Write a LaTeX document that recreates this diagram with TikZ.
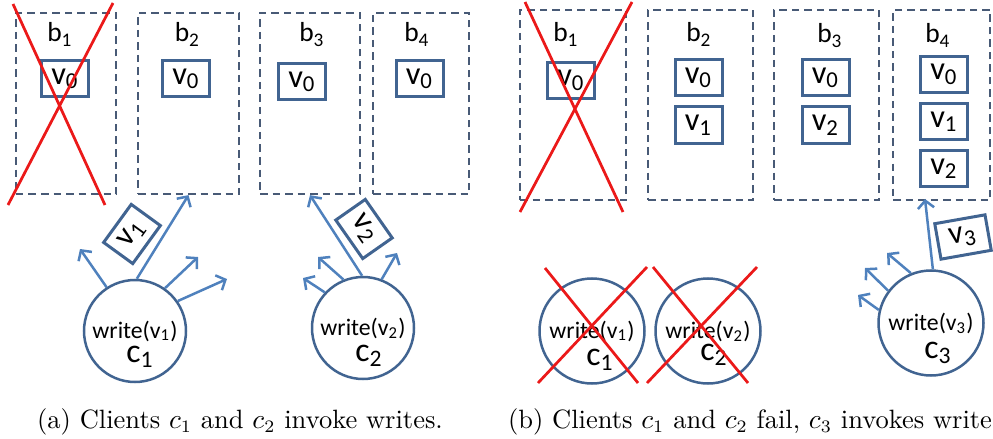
\documentclass[tikz,border=0pt]{standalone}
\usepackage{fontspec}
\newfontfamily\calibri{Carlito}
\usetikzlibrary{positioning,arrows.meta}
\definecolor{boxblue}{RGB}{65,100,145}
\definecolor{dashblue}{RGB}{72,90,118}
\definecolor{arrowblue}{RGB}{79,129,189}
\definecolor{crossred}{RGB}{235,25,25}
\tikzstyle{bucket} = [rectangle, draw=dashblue, line width=0.9pt, dash pattern=on 3pt off 2pt, minimum height=72.4pt]
\tikzstyle{bname} = [font=\calibri\fontsize{11}{13}\selectfont, anchor=base]
\tikzstyle{version} = [rectangle, draw=boxblue, line width=1.2pt, minimum width=18.8pt, minimum height=14.4pt, inner sep=0pt, font=\calibri\fontsize{13}{15}\selectfont]
\tikzstyle{client} = [circle, draw=boxblue, line width=1pt, minimum size=40.8pt, inner sep=0pt, font=\calibri\fontsize{9.5}{11}\selectfont]
\tikzstyle{cname} = [font=\calibri\fontsize{13.5}{15}\selectfont]
\tikzstyle{wrarrow} = [-{Straight Barb[length=3pt,width=6.5pt]}, draw=arrowblue, line width=1pt]
\tikzstyle{cross} = [draw=crossred, line width=1.1pt]
\tikzstyle{caption} = [anchor=base, font=\fontsize{10.6}{12.5}\selectfont]

\begin{document}
\begin{tikzpicture}[x=0.4pt, y=-0.4pt]
	\useasboundingbox (0,0) rectangle (993,439);
	% (a) buckets
	\node (la1) [bucket, minimum width=40pt] at (66,103.5) {};
	\node (la2) [bucket, minimum width=40.4pt] at (188.5,103.5) {};
	\node (la3) [bucket, minimum width=40pt] at (310,103.5) {};
	\node (la4) [bucket, minimum width=38.4pt] at (421,103.5) {};
	\node (na1) [bname] at (60,42) {b\textsubscript{1}};
	\node (na2) [bname] at (187.5,42) {b\textsubscript{2}};
	\node (na3) [bname] at (312,42) {b\textsubscript{3}};
	\node (na4) [bname] at (417,42) {b\textsubscript{4}};
	\node (va1) [version] at (65,79) {v\textsubscript{0}};
	\node (va2) [version] at (186,79) {v\textsubscript{0}};
	\node (va3) [version] at (302,82) {v\textsubscript{0}};
	\node (va4) [version] at (419.5,79) {v\textsubscript{0}};
	\draw[cross] (13,4) -- (105,205) (113,3) -- (8,205);

	% (a) clients
	\node (ca1) [client] at (135,331) {write(v\textsubscript{1})};
	\node (ca2) [client] at (363,328) {write(v\textsubscript{2})};
	\node (cna1) [cname] at (140,357) {c\textsubscript{1}};
	\node (cna2) [cname] at (369,356) {c\textsubscript{2}};
	\coordinate (ta1) at (80,249);
	\coordinate (ta3) at (198,257);
	\coordinate (ta4) at (227,279);
	\coordinate (tb2) at (318,257);
	\coordinate (tb3) at (303,278);
	\coordinate (tb4) at (397,253);
	\draw[wrarrow] (ca1.123) -- (ta1);
	\draw[wrarrow] (ca1.88) -- (la2.south);
	\draw[wrarrow] (ca1.55) -- (ta3);
	\draw[wrarrow] (ca1.35) -- (ta4);
	\draw[wrarrow] (ca2.91) -- (la3.south);
	\draw[wrarrow] (ca2.112) -- (tb2);
	\draw[wrarrow] (ca2.137) -- (tb3);
	\draw[wrarrow] (ca2.69) -- (tb4);
	\node (wa1) [version, rotate=54] at (132,234) {v\textsubscript{1}};
	\node (wa2) [version, rotate=-55] at (364,229) {v\textsubscript{2}};

	% (b) buckets
	\node (lb1) [bucket, minimum width=42.4pt, minimum height=76pt] at (573,105) {};
	\node (lb2) [bucket, minimum width=42pt, minimum height=76pt] at (700.5,105) {};
	\node (lb3) [bucket, minimum width=42pt, minimum height=76pt] at (826.5,105) {};
	\node (lb4) [bucket, minimum width=38.8pt, minimum height=76pt] at (941.5,105) {};
	\node (nb1) [bname] at (566,42) {b\textsubscript{1}};
	\node (nb2) [bname] at (699,42) {b\textsubscript{2}};
	\node (nb3) [bname] at (830,43) {b\textsubscript{3}};
	\node (nb4) [bname] at (938,43) {b\textsubscript{4}};
	\node (vb1) [version] at (571,80.5) {v\textsubscript{0}};
	\node (vb2) [version] at (698.5,78) {v\textsubscript{0}};
	\node (vb2a) [version, below=3.2pt of vb2] {v\textsubscript{1}};
	\node (vb3) [version] at (825.5,78) {v\textsubscript{0}};
	\node (vb3a) [version, below=3.2pt of vb3] {v\textsubscript{2}};
	\node (vb4) [version] at (944,74.5) {v\textsubscript{0}};
	\node (vb4a) [version, below=3.2pt of vb4] {v\textsubscript{1}};
	\node (vb4b) [version, below=3.2pt of vb4a] {v\textsubscript{2}};
	\draw[cross] (525,2) -- (623,212) (632,2) -- (520,212);

	% (b) clients
	\node (cb1) [client, minimum size=42pt] at (592,331) {write(v\textsubscript{1})};
	\node (cb2) [client, minimum size=42pt] at (708,331) {write(v\textsubscript{2})};
	\node (cb3) [client, minimum size=42pt] at (931,323) {write(v\textsubscript{3})};
	\node (cnb1) [cname] at (600,360) {c\textsubscript{1}};
	\node (cnb2) [cname] at (714,355) {c\textsubscript{2}};
	\node (cnb3) [cname] at (938,353) {c\textsubscript{3}};
	\draw[cross] (545,268) -- (638,383) (647,267) -- (538,383);
	\draw[cross] (653,267) -- (748,383) (757,267) -- (647,383);
	\coordinate (tc1) at (925,199);
	\coordinate (tc2) at (887,253);
	\coordinate (tc3) at (865,268);
	\coordinate (tc4) at (858,295);
	\draw[wrarrow] (cb3.88) -- (tc1);
	\draw[wrarrow] (cb3.112) -- (tc2);
	\draw[wrarrow] (cb3.143) -- (tc3);
	\draw[wrarrow] (cb3.166) -- (tc4);
	\node (wb3) [version, minimum width=20.4pt, rotate=10] at (963,237) {v\textsubscript{3}};

	% captions
	\node (capa) [caption] at (240,428) {(a) Clients $c_1$ and $c_2$ invoke writes.};
	\node (capb) [caption] at (750,428) {(b) Clients $c_1$ and $c_2$ fail, $c_3$ invokes write};
\end{tikzpicture}
\end{document}
